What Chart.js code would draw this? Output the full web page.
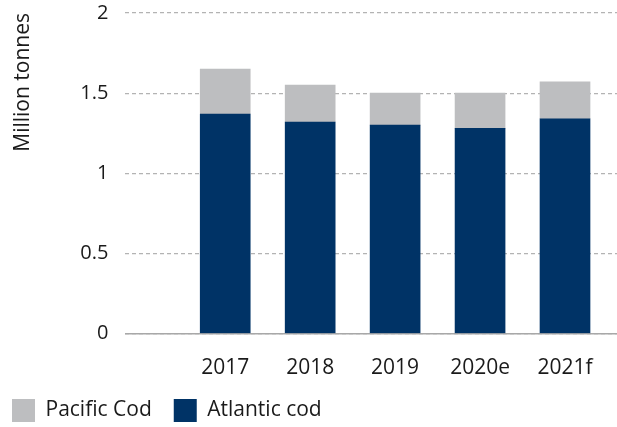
<!DOCTYPE html>
<html>
<head>
<meta charset="utf-8">
<script src="https://cdn.jsdelivr.net/npm/chart.js@4.4.1/dist/chart.umd.min.js"></script>
<style>
  html, body { margin: 0; padding: 0; background: #fff; }
  #wrap { width: 617px; height: 427px; }
</style>
</head>
<body>
<div id="wrap"><canvas id="codChart" width="617" height="427"></canvas></div>
<script>
const years = ['2017', '2018', '2019', '2020e', '2021f'];
const atlanticCod = [1.37, 1.32, 1.30, 1.28, 1.34];
const pacificCod = [0.28, 0.23, 0.20, 0.22, 0.23];
const yTicks = [0, 0.5, 1, 1.5, 2];

const textColor = '#1a1a1a';
const font = 'Open Sans';
const clear = 'rgba(0,0,0,0)';

// labels.padding also spaces the legend items, so nudge the legend back to the left
const legendShift = {
    id: 'legendShift',
    afterLayout(chart) {
        chart.legend.left -= 10;
    }
};

const ctx = document.getElementById('codChart').getContext('2d');
const chart = new Chart(ctx, {
    type: 'bar',
    data: {
        datasets: [
            {
                label: 'Atlantic cod',
                data: atlanticCod.map((v, i) => ({ x: i, y: v })),
                backgroundColor: '#003366',
                barThickness: 50
            },
            {
                label: 'Pacific Cod',
                data: pacificCod.map((v, i) => ({ x: i, y: v })),
                backgroundColor: '#bdbec0',
                barThickness: 50
            }
        ]
    },
    plugins: [legendShift],
    options: {
        responsive: false,
        animation: false,
        devicePixelRatio: 1,
        layout: { padding: { top: 5.5, right: 0, left: 0, bottom: -5 } },
        plugins: {
            tooltip: { enabled: false },
            legend: {
                position: 'bottom',
                align: 'start',
                reverse: true,
                labels: {
                    boxWidth: 23,
                    boxHeight: 23,
                    padding: 22,
                    color: textColor,
                    font: { family: font, size: 21 }
                }
            }
        },
        scales: {
            x: {
                type: 'linear',
                stacked: true,
                offset: false,
                min: -1.176,
                max: 4.612,
                grid: { display: true, color: clear, drawTicks: true, tickLength: 25.5, tickColor: clear },
                border: { color: '#a8a8a8', width: 1.5 },
                ticks: {
                    stepSize: 1,
                    includeBounds: false,
                    autoSkip: false,
                    maxRotation: 0,
                    padding: 0,
                    color: textColor,
                    font: { family: font, size: 21, lineHeight: 0.857 },
                    callback: v => Number.isInteger(v) && years[v] ? years[v] : ''
                }
            },
            y: {
                stacked: true,
                min: 0,
                max: 2,
                afterBuildTicks: axis => { axis.ticks = yTicks.map(v => ({ value: v })); },
                grid: { color: '#b3b3b3', lineWidth: 1.2, drawTicks: true, tickLength: 14, tickColor: clear },
                border: { display: false, dash: [4, 3] },
                ticks: {
                    padding: 3,
                    color: textColor,
                    font: { family: font, size: 20, lineHeight: 1 },
                    callback: v => String(v)
                },
                title: {
                    display: true,
                    text: 'Million tonnes',
                    align: 'end',
                    color: textColor,
                    font: { family: font, size: 21 },
                    padding: { top: 10, bottom: 42 }
                }
            }
        }
    }
});
</script>
</body>
</html>
